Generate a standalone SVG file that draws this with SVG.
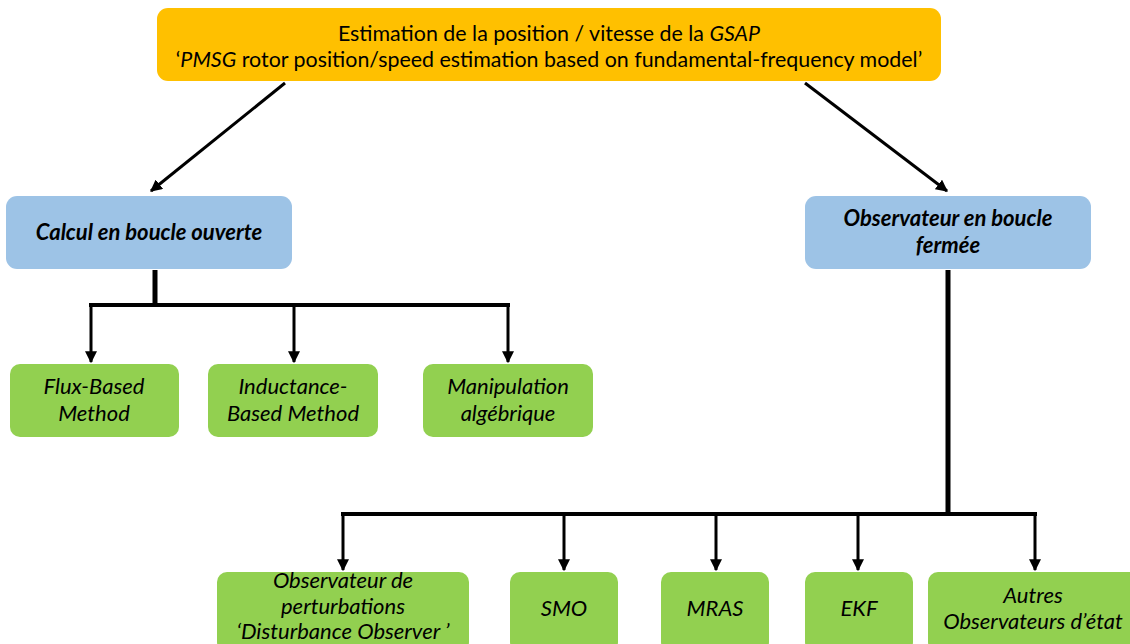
<svg xmlns="http://www.w3.org/2000/svg" width="1130" height="644" viewBox="0 0 1130 644">
<style>
text{font-family:Lato,"Noto Sans","Liberation Sans",sans-serif;fill:#000;text-anchor:middle}
.t{font-size:21.4px}
.b{font-size:22px;font-weight:bold;font-style:italic}
.g{font-size:22px;font-style:italic}
.orange{fill:#FFC000}
.blue{fill:#9DC3E6}
.green{fill:#92D050}
.ln{stroke:#000;fill:none}
</style>
<defs>
<marker id="ah" viewBox="0 0 10 10" refX="9" refY="5" markerWidth="4" markerHeight="4" orient="auto" markerUnits="strokeWidth">
<path d="M0,0 L10,5 L0,10 z" fill="#000"/>
</marker>
<marker id="ah2" viewBox="0 0 10 10" refX="9" refY="5" markerWidth="4" markerHeight="4" orient="auto" markerUnits="strokeWidth">
<path d="M0,0 L10,5 L0,10 z" fill="#000"/>
</marker>
</defs>
<g id="connectors">
<line class="ln" x1="285" y1="83" x2="151" y2="191" stroke-width="3" marker-end="url(#ah2)"/>
<line class="ln" x1="805" y1="83" x2="947" y2="191" stroke-width="3" marker-end="url(#ah2)"/>
<line class="ln" x1="155" y1="270" x2="155" y2="306" stroke-width="5"/>
<line class="ln" x1="89" y1="305" x2="510" y2="305" stroke-width="4"/>
<line class="ln" x1="91" y1="305" x2="91" y2="362" stroke-width="3" marker-end="url(#ah)"/>
<line class="ln" x1="294" y1="305" x2="294" y2="362" stroke-width="3" marker-end="url(#ah)"/>
<line class="ln" x1="508" y1="305" x2="508" y2="362" stroke-width="3" marker-end="url(#ah)"/>
<line class="ln" x1="948" y1="270" x2="948" y2="516" stroke-width="5"/>
<line class="ln" x1="341" y1="514" x2="1037" y2="514" stroke-width="4"/>
<line class="ln" x1="343" y1="514" x2="343" y2="570" stroke-width="3" marker-end="url(#ah)"/>
<line class="ln" x1="564" y1="514" x2="564" y2="570" stroke-width="3" marker-end="url(#ah)"/>
<line class="ln" x1="716" y1="514" x2="716" y2="570" stroke-width="3" marker-end="url(#ah)"/>
<line class="ln" x1="858" y1="514" x2="858" y2="570" stroke-width="3" marker-end="url(#ah)"/>
<line class="ln" x1="1035" y1="514" x2="1035" y2="570" stroke-width="3" marker-end="url(#ah)"/>
</g>
<g id="root">
<rect class="orange" x="157" y="8" width="784" height="73" rx="11"/>
<text class="t" x="549" y="41">Estimation de la position / vitesse de la <tspan font-style="italic">GSAP</tspan></text>
<text class="t" x="549" y="67">‘<tspan font-style="italic">PMSG</tspan> rotor position/speed estimation based on fundamental-frequency model’</text>
</g>
<g id="open-loop">
<rect class="blue" x="6" y="196" width="286" height="73" rx="11"/>
<text class="b" x="149" y="240">Calcul en boucle ouverte</text>
</g>
<g id="closed-loop">
<rect class="blue" x="805" y="196" width="286" height="73" rx="11"/>
<text class="b" x="948" y="226">Observateur en boucle</text>
<text class="b" x="948" y="253">fermée</text>
</g>
<g id="flux">
<rect class="green" x="10" y="364" width="169" height="73" rx="10"/>
<text class="g" x="94" y="394">Flux-Based</text>
<text class="g" x="94" y="421">Method</text>
</g>
<g id="inductance">
<rect class="green" x="208" y="364" width="170" height="73" rx="10"/>
<text class="g" x="293" y="394">Inductance-</text>
<text class="g" x="293" y="421">Based Method</text>
</g>
<g id="manipulation">
<rect class="green" x="423" y="364" width="170" height="73" rx="10"/>
<text class="g" x="508" y="394">Manipulation</text>
<text class="g" x="508" y="421">algébrique</text>
</g>
<g id="dob">
<rect class="green" x="217" y="572" width="252" height="80" rx="10"/>
<text class="g" x="343" y="588">Observateur de</text>
<text class="g" x="343" y="614">perturbations</text>
<text class="g" x="343" y="639">‘Disturbance Observer ’</text>
</g>
<g id="smo">
<rect class="green" x="510" y="572" width="108" height="80" rx="10"/>
<text class="g" x="564" y="616">SMO</text>
</g>
<g id="mras">
<rect class="green" x="661" y="572" width="108" height="80" rx="10"/>
<text class="g" x="715" y="616">MRAS</text>
</g>
<g id="ekf">
<rect class="green" x="805" y="572" width="108" height="80" rx="10"/>
<text class="g" x="859" y="616">EKF</text>
</g>
<g id="autres">
<rect class="green" x="928" y="572" width="220" height="80" rx="10"/>
<text class="g" x="1033" y="603">Autres</text>
<text class="g" x="1033" y="629">Observateurs d’état</text>
</g>
</svg>
